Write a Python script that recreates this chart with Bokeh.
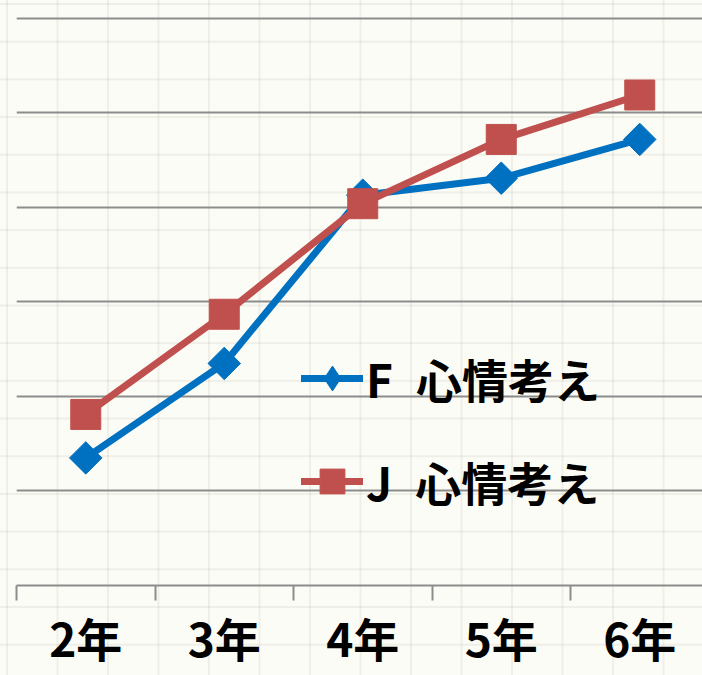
import math

from bokeh.embed import file_html
from bokeh.models import FixedTicker, Legend, LegendItem, Range1d
from bokeh.plotting import figure
from bokeh.resources import INLINE

# Grades on the x axis and the two series plotted against them
grades = ["2年", "3年", "4年", "5年", "6年"]
f_values = [13.5, 23.5, 41.3, 43.1, 47.2]
j_values = [18.1, 28.7, 40.4, 47.2, 51.9]
series_names = ["F\u2002心情考え", "J\u2002心情考え"]
gridline_values = [10, 20, 30, 40, 50, 60]

BLUE = "#0070C0"
RED = "#C0504D"
GRAY = "#8C8C8C"
FONT = "Noto Sans CJK JP"

xs = list(range(1, len(grades) + 1))
slot_px = 138.5          # width of one grade slot
frame_w = 702 - 16

p = figure(
    width=702, height=675,
    output_backend="svg", toolbar_location=None,
    x_range=Range1d(0.5, 0.5 + frame_w / slot_px),
    y_range=Range1d(0, 61.9),
    y_axis_location=None,
    min_border_left=16, min_border_right=0, min_border_top=0, min_border_bottom=90,
    border_fill_color=None, background_fill_color=None, outline_line_color=None,
)

# notebook-paper backdrop behind the whole chart
p.styles = {
    "background-color": "#FCFCF6",
    "background-image": (
        "linear-gradient(90deg, rgba(110,110,90,0.09) 2px, transparent 2px),"
        "linear-gradient(180deg, rgba(110,110,90,0.09) 2px, transparent 2px)"
    ),
    "background-size": "50.5px 37.7px",
    "background-position": "6px 3px",
}

# horizontal value lines only
p.xgrid.visible = False
p.ygrid.ticker = FixedTicker(ticks=gridline_values)
p.ygrid.grid_line_color = GRAY
p.ygrid.grid_line_width = 2

# category axis: labels at slot centres, tick marks at slot boundaries
ax = p.xaxis[0]
ax.ticker = FixedTicker(ticks=xs, minor_ticks=[x - 0.5 for x in xs] + [xs[-1] + 0.5])
ax.major_label_overrides = {x: g for x, g in zip(xs, grades)}
ax.major_tick_line_color = None
ax.major_tick_out = 15
ax.major_tick_in = 0
ax.minor_tick_out = 15
ax.minor_tick_in = 0
ax.minor_tick_line_color = GRAY
ax.minor_tick_line_width = 2
ax.axis_line_color = GRAY
ax.axis_line_width = 2
ax.major_label_text_font = FONT
ax.major_label_text_font_size = "46px"
ax.major_label_text_font_style = "bold"
ax.major_label_text_color = "black"
ax.major_label_standoff = 3

# F series: blue line with diamond markers
f_line = p.line(xs, f_values, line_color=BLUE, line_width=7, line_cap="round", line_join="round")
p.scatter(xs, f_values, marker="square", angle=math.pi / 4, size=23, color=BLUE)
f_key = p.scatter(xs, f_values, marker="diamond", size=26, color=BLUE, visible=False)

# J series: red line with square markers
j_line = p.line(xs, j_values, line_color=RED, line_width=7, line_cap="round", line_join="round")
j_marks = p.scatter(xs, j_values, marker="square", size=30, color=RED)

legend = Legend(
    items=[
        LegendItem(label=series_names[0], renderers=[f_line, f_key]),
        LegendItem(label=series_names[1], renderers=[j_line, j_marks]),
    ],
    location=(285, 71),
    orientation="vertical",
    glyph_width=62, glyph_height=64,
    spacing=37, padding=0, margin=0,
    label_standoff=3,
    label_text_font=FONT,
    label_text_font_size="46px",
    label_text_font_style="bold",
    label_text_color="black",
    background_fill_alpha=0,
    border_line_color=None,
)
p.add_layout(legend)

open("out.html", "w").write(file_html(p, INLINE))
